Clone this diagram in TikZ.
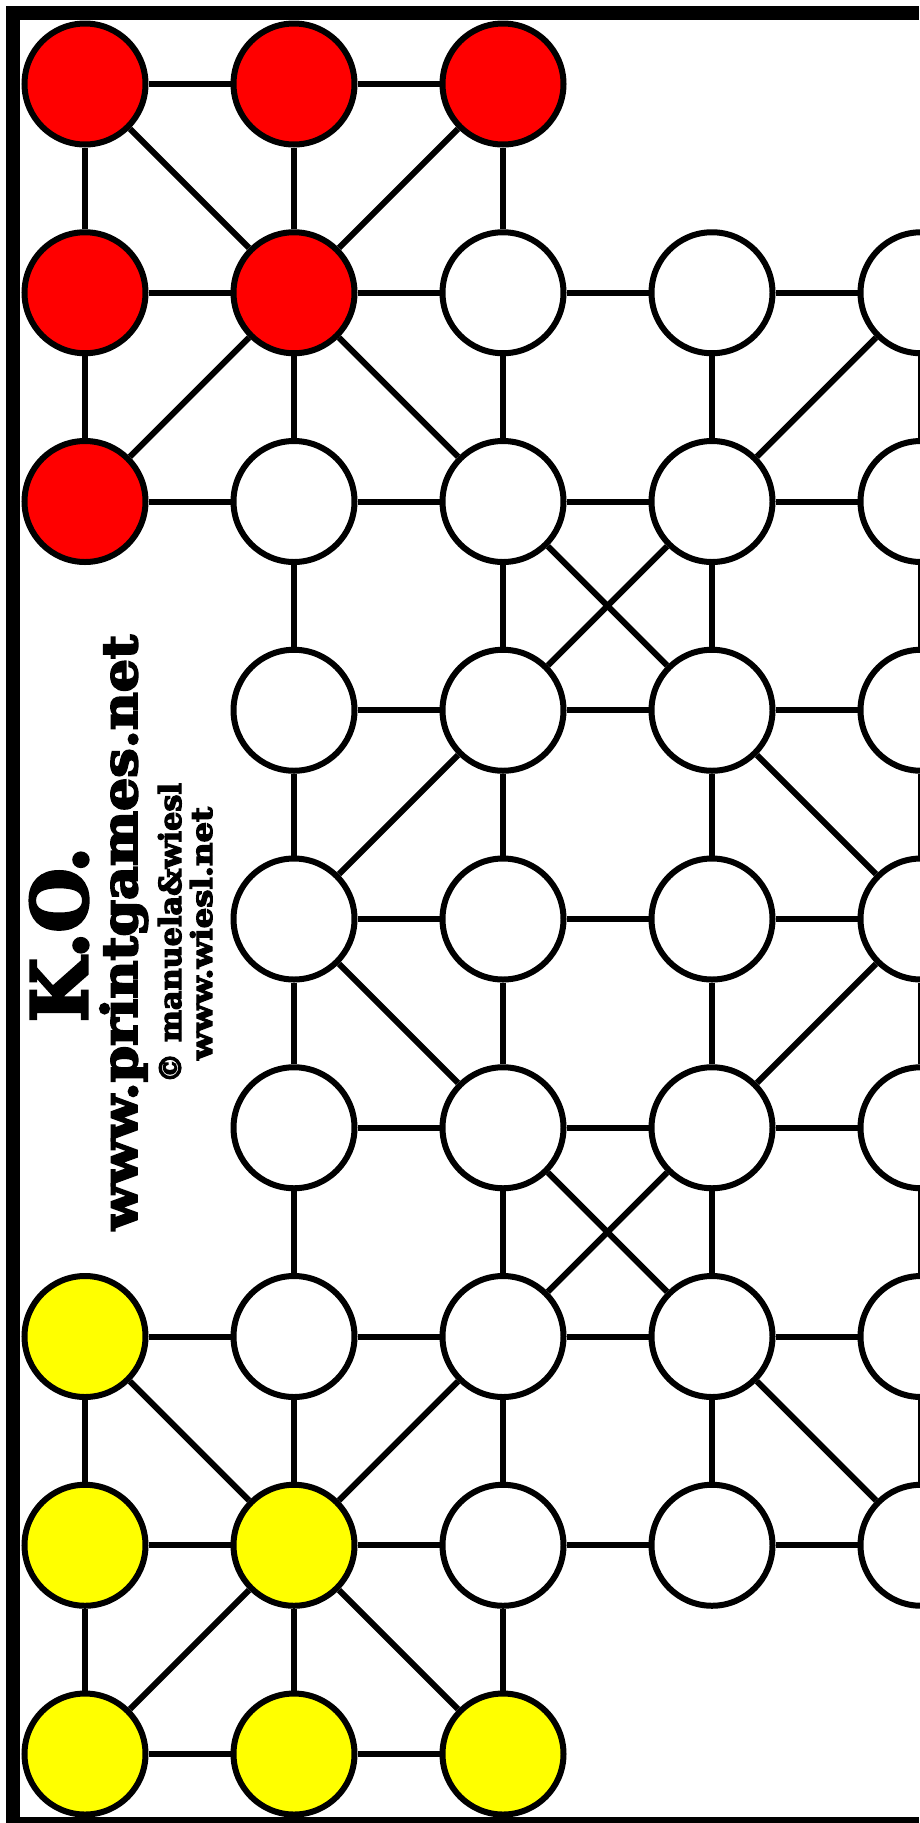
\documentclass[tikz,border=0pt]{standalone}
\usepackage{fontspec}
\setmainfont{DejaVu Serif}
\newfontfamily\heavyfont{DejaVu Serif}[BoldFeatures={FakeBold=4}]
\usepackage{graphicx}
\definecolor{pred}{HTML}{FF0000}
\definecolor{pyel}{HTML}{FFFF00}
\tikzset{
  spot/.style={circle, draw=black, line width=6pt, minimum size=121pt, inner sep=0pt, fill=white},
  redspot/.style={spot, fill=pred},
  yelspot/.style={spot, fill=pyel},
  link/.style={draw=black, line width=6pt},
  framebar/.style={fill=black},
  label/.style={rotate=90, anchor=base, inner sep=0pt, font=\heavyfont\bfseries}
}
\begin{document}
\begin{tikzpicture}[x=1pt,y=-1pt]
\useasboundingbox (0,0) rectangle (919,1823);
\fill[white] (0,0) rectangle (919,1823);
% frame
\fill[framebar] (6,6) rectangle (919,20);
\fill[framebar] (6,6) rectangle (20,1823);
\fill[framebar] (6,1817) rectangle (919,1823);
% nodes
\foreach \c/\r in {0/0,1/0,2/0,0/1,1/1,0/2}
  \node[redspot] (n\c\r) at ({85+209*\c},{84+208.75*\r}) {};
\foreach \c/\r in {0/6,0/7,1/7,0/8,1/8,2/8}
  \node[yelspot] (n\c\r) at ({85+209*\c},{84+208.75*\r}) {};
\foreach \c/\r in {2/1,3/1,4/1,1/2,2/2,3/2,4/2,1/3,2/3,3/3,4/3,1/4,2/4,3/4,4/4,1/5,2/5,3/5,4/5,1/6,2/6,3/6,4/6,2/7,3/7,4/7}
  \node[spot] (n\c\r) at ({85+209*\c},{84+208.75*\r}) {};
% horizontal links
\foreach \a/\b in {00/10,10/20,
  01/11,11/21,21/31,31/41,
  02/12,12/22,22/32,32/42,
  13/23,23/33,33/43,
  14/24,24/34,34/44,
  15/25,25/35,35/45,
  06/16,16/26,26/36,36/46,
  07/17,17/27,27/37,37/47,
  08/18,18/28}
  \draw[link] (n\a) -- (n\b);
% vertical links
\foreach \a/\b in {00/01,01/02,06/07,07/08,
  10/11,11/12,12/13,13/14,14/15,15/16,16/17,17/18,
  20/21,21/22,22/23,23/24,24/25,25/26,26/27,27/28,
  31/32,32/33,33/34,34/35,35/36,36/37,
  41/42,42/43,43/44,44/45,45/46,46/47}
  \draw[link] (n\a) -- (n\b);
% diagonal links
\foreach \a/\b in {00/11,20/11,11/02,11/22,41/32,
  22/33,32/23,23/14,33/44,14/25,44/35,
  25/36,35/26,06/17,26/17,36/47,17/08,17/28}
  \draw[link] (n\a) -- (n\b);
% texts
\node[label] (title) at (87,934.5) {\resizebox{175pt}{57pt}{K.O.}};
\node[label] (site) at (137,932.5) {\resizebox{595pt}{37pt}{www.printgames.net}};
\node[label] (copy) at (181,933) {\resizebox{300pt}{23pt}{© manuela\&wiesl}};
\node[label] (site2) at (212,933.5) {\resizebox{253pt}{22pt}{www.wiesl.net}};
\end{tikzpicture}
\end{document}
